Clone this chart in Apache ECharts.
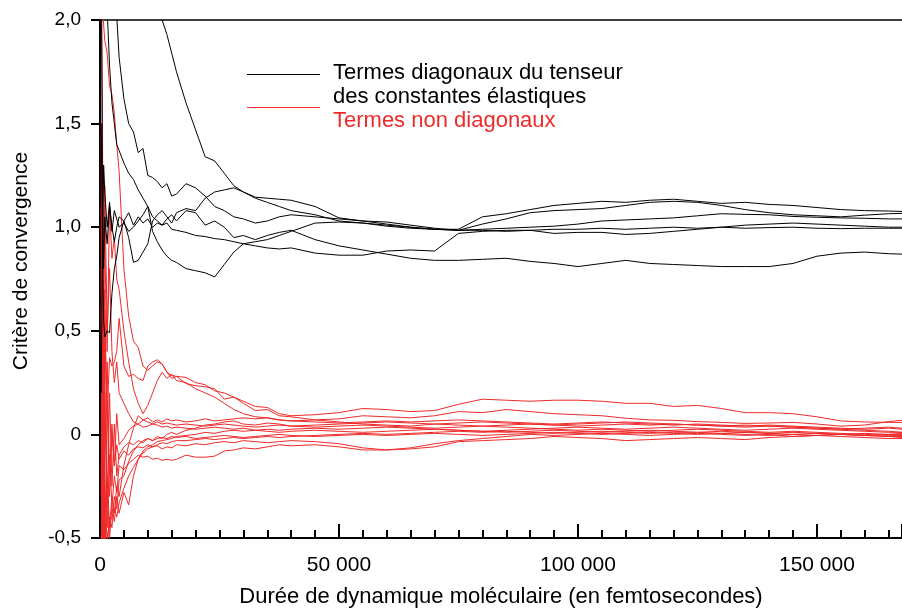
<!DOCTYPE html>
<html>
<head>
<meta charset="utf-8">
<script src="https://cdn.jsdelivr.net/npm/echarts@6/dist/echarts.min.js"></script>
<style>
  html, body { margin: 0; padding: 0; background: #fff; }
  #chart { width: 902px; height: 608px; }
</style>
</head>
<body>
<div id="chart"></div>
<script>
// durée (fs)
const times = [
  250, 500, 750, 1000, 1500, 2000, 2500, 3000, 3500, 4000,
  5000, 6000, 7000, 8000, 9000, 10000, 11000, 12000, 13000, 14000,
  15000, 16000, 18000, 20000, 22000, 24000, 26000, 28000, 30000, 32500,
  35000, 37500, 40000, 45000, 50000, 55000, 60000, 65000, 70000, 75000,
  80000, 85000, 90000, 95000, 100000, 105000, 110000, 115000, 120000, 125000,
  130000, 135000, 140000, 145000, 150000, 155000, 160000, 165000, 167800
]

// termes diagonaux
const diag1 = [
  9, 7, 6, 5.2, 4.4, 3.9, 3.5, 3.25, 3.05, 2.9,
  2.7, 2.55, 2.43, 2.32, 2.22, 2.14, 2.08, 2.04, 2.0, 1.93,
  1.84, 1.75, 1.6, 1.47, 1.34, 1.32, 1.26, 1.2, 1.17, 1.145,
  1.14, 1.135, 1.13, 1.1, 1.045, 1.03, 1.015, 1.0, 0.99, 0.99,
  1.05, 1.065, 1.085, 1.105, 1.115, 1.125, 1.12, 1.13, 1.135, 1.125,
  1.115, 1.12, 1.11, 1.105, 1.095, 1.085, 1.08, 1.078, 1.076
]
const diag2 = [
  6, 5, 4, 3.4, 2.9, 2.6, 2.35, 2.15, 2.02, 1.82,
  1.62, 1.5, 1.46, 1.36, 1.38, 1.25, 1.24, 1.22, 1.19, 1.21,
  1.15, 1.16, 1.21, 1.19, 1.15, 1.1, 1.08, 1.05, 1.04, 1.02,
  1.03, 1.05, 1.06, 1.05, 1.04, 1.03, 1.025, 1.01, 0.995, 0.985,
  1.015, 1.04, 1.07, 1.08, 1.085, 1.09, 1.105, 1.12, 1.125, 1.12,
  1.105, 1.085, 1.07, 1.06, 1.055, 1.05, 1.058, 1.065, 1.067
]
const diag3 = [
  4.5, 3.6, 2.9, 2.4, 2.05, 1.78, 1.6, 1.5, 1.4, 1.37,
  1.31, 1.26, 1.23, 1.18, 1.14, 1.1, 1.05, 1.03, 1.01, 1.02,
  0.99, 0.985, 0.975, 0.96, 0.955, 0.945, 0.94, 0.93, 0.92, 0.91,
  0.9, 0.895, 0.9, 0.875, 0.865, 0.865, 0.885, 0.89, 0.885, 0.97,
  0.98, 0.985, 0.985, 0.97, 0.975, 0.975, 0.965, 0.97, 0.98, 0.99,
  1.0, 1.01, 1.015, 1.02, 1.015, 1.01, 1.005, 1.0, 1.0
]
const diag4 = [
  1.5, 0.9, 1.3, 1.17, 1.0, 1.12, 0.98, 1.08, 1.04, 1.0,
  1.02, 0.98, 1.0, 1.03, 1.06, 1.1, 0.98, 0.93, 0.89, 0.86,
  0.84, 0.83, 0.8, 0.79, 0.78, 0.76, 0.82, 0.88, 0.92, 0.93,
  0.94, 0.96, 0.98, 1.02, 1.025, 1.02, 1.01, 1.0, 0.99, 0.985,
  0.99, 0.995, 1.0, 1.005, 1.015, 1.03, 1.035, 1.04, 1.045, 1.055,
  1.065, 1.062, 1.06, 1.052, 1.048, 1.045, 1.043, 1.04, 1.04
]
const diag5 = [
  0.2, 0.9, 0.55, 0.47, 0.5, 0.49, 0.68, 0.8, 0.86, 0.95,
  1.03, 0.95, 0.83, 0.84, 0.88, 0.92, 1.03, 1.06, 1.08, 1.05,
  1.02, 1.07, 1.09, 1.08, 1.14, 1.17, 1.18, 1.19, 1.17, 1.14,
  1.12, 1.1, 1.08, 1.06, 1.03, 1.02, 1.005, 0.995, 0.99, 0.985,
  0.985, 0.98, 0.985, 0.99, 0.99, 0.995, 0.99, 0.995, 1.0, 0.995,
  1.0, 0.995, 0.998, 1.0, 0.995, 0.993, 0.995, 0.995, 0.995
]
const diag6 = [
  2.5, 1.2, 0.8, 1.05, 0.92, 1.1, 1.0, 0.93, 1.0, 1.05,
  1.03, 1.07, 1.01, 1.05, 1.02, 1.04, 1.0, 1.02, 1.01, 1.04,
  1.06, 1.03, 1.08, 1.07, 1.01, 1.03, 1.0, 0.95, 0.96, 0.94,
  0.96, 0.975, 0.985, 0.94, 0.91, 0.89, 0.87, 0.85, 0.84, 0.84,
  0.845, 0.85, 0.835, 0.825, 0.81, 0.825, 0.84, 0.825, 0.82, 0.815,
  0.81, 0.81, 0.81, 0.825, 0.86, 0.875, 0.88, 0.872, 0.87
]

// termes non diagonaux
const off1 = [
  2.5, 2.1, 1.98, 1.9, 1.84, 1.68, 1.64, 1.55, 1.4, 1.27,
  0.8, 0.57, 0.45, 0.42, 0.33, 0.31, 0.33, 0.35, 0.34, 0.3,
  0.27, 0.28, 0.245, 0.235, 0.23, 0.22, 0.17, 0.18, 0.15, 0.115,
  0.12, 0.09, 0.085, 0.07, 0.06, 0.05, 0.045, 0.04, 0.05, 0.045,
  0.04, 0.045, 0.05, 0.045, 0.04, 0.045, 0.05, 0.045, 0.05, 0.045,
  0.04, 0.035, 0.04, 0.035, 0.03, 0.025, 0.02, 0.015, 0.01
]
const off2 = [
  -0.8, 0.9, -0.3, 0.6, 0.1, 0.37, 0.33, 0.35, 0.4, 0.56,
  0.33, 0.28, 0.29, 0.27, 0.26, 0.33, 0.35, 0.36, 0.34, 0.3,
  0.285, 0.28, 0.275, 0.25, 0.24, 0.21, 0.2, 0.18, 0.16, 0.135,
  0.13, 0.1, 0.09, 0.095, 0.105, 0.125, 0.12, 0.11, 0.115, 0.145,
  0.17, 0.165, 0.16, 0.165, 0.165, 0.16, 0.15, 0.15, 0.135, 0.14,
  0.125, 0.105, 0.105, 0.1, 0.085, 0.065, 0.06, 0.058, 0.058
]
const off3 = [
  1.5, -0.9, 0.4, -0.6, -0.2, -0.45, -0.3, -0.38, -0.25, -0.3,
  -0.15, -0.05, 0.03, 0.09, 0.07, 0.08, 0.06, 0.07, 0.06, 0.075,
  0.065, 0.07, 0.06, 0.065, 0.075, 0.065, 0.07, 0.075, 0.08, 0.075,
  0.08, 0.07, 0.065, 0.07, 0.075, 0.09, 0.085, 0.08, 0.09, 0.11,
  0.105, 0.12, 0.11, 0.1, 0.095, 0.09, 0.078, 0.07, 0.068, 0.062,
  0.058, 0.053, 0.055, 0.058, 0.05, 0.04, 0.045, 0.062, 0.068
]
const off4 = [
  -1.2, -0.6, 0.5, -0.2, -0.55, -0.4, -0.45, -0.3, -0.36, -0.22,
  -0.2, -0.13, -0.08, -0.05, -0.03, -0.02, -0.03, -0.01, -0.02, 0.0,
  0.01, 0.0, 0.02, 0.03, 0.045, 0.05, 0.06, 0.065, 0.05, 0.045,
  0.055, 0.05, 0.04, 0.045, 0.05, 0.055, 0.06, 0.055, 0.05, 0.055,
  0.06, 0.055, 0.05, 0.045, 0.05, 0.055, 0.06, 0.055, 0.05, 0.045,
  0.04, 0.045, 0.04, 0.035, 0.03, 0.025, 0.03, 0.035, 0.03
]
const off5 = [
  0.8, -1.5, -0.7, 0.2, -0.45, -0.1, -0.35, -0.2, -0.28, -0.15,
  -0.17, -0.14, -0.12, -0.1, -0.11, -0.105, -0.12, -0.115, -0.125, -0.12,
  -0.125, -0.12, -0.1, -0.11, -0.11, -0.105, -0.08, -0.075, -0.065, -0.07,
  -0.06, -0.05, -0.055, -0.05, -0.06, -0.075, -0.075, -0.065, -0.045, -0.03,
  -0.02, -0.01, 0.0, -0.005, 0.0, 0.005, 0.0, -0.005, 0.0, 0.005,
  0.0, -0.005, 0.0, -0.01, -0.005, -0.01, -0.015, -0.02, -0.02
]
const off6 = [
  -2.0, 0.3, -0.9, -0.1, 0.35, -0.2, 0.05, -0.15, -0.05, -0.12,
  -0.08, -0.1, -0.07, -0.06, -0.065, -0.05, -0.06, -0.055, -0.07, -0.06,
  -0.065, -0.05, -0.055, -0.045, -0.05, -0.04, -0.035, -0.04, -0.03, -0.035,
  -0.04, -0.035, -0.03, -0.035, -0.045, -0.065, -0.075, -0.07, -0.06, -0.035,
  -0.03, -0.025, -0.02, -0.01, -0.015, -0.02, -0.03, -0.025, -0.02, -0.015,
  -0.02, -0.025, -0.015, -0.01, -0.005, 0.0, -0.005, -0.01, -0.015
]
const off7 = [
  0.6, -0.4, 1.0, -0.8, 0.15, -0.3, 0.0, -0.15, 0.1, -0.05,
  -0.02, 0.02, 0.04, 0.05, 0.035, 0.04, 0.05, 0.045, 0.035, 0.04,
  0.03, 0.035, 0.03, 0.025, 0.03, 0.035, 0.03, 0.025, 0.03, 0.02,
  0.025, 0.02, 0.025, 0.03, 0.025, 0.03, 0.035, 0.03, 0.025, 0.02,
  0.015, 0.02, 0.025, 0.03, 0.035, 0.03, 0.025, 0.03, 0.035, 0.03,
  0.025, 0.02, 0.025, 0.03, 0.025, 0.02, 0.015, 0.01, 0.01
]
const off8 = [
  -0.3, 1.4, -1.1, 0.7, -0.35, 0.2, -0.25, 0.05, -0.2, -0.1,
  -0.06, -0.04, -0.05, -0.03, -0.04, -0.02, -0.03, -0.02, -0.015, -0.02,
  -0.01, -0.015, -0.01, -0.02, -0.015, -0.01, -0.005, -0.01, -0.015, -0.01,
  -0.005, 0.0, -0.005, -0.01, -0.005, 0.0, -0.005, 0.0, 0.005, 0.0,
  -0.005, 0.0, 0.005, 0.01, 0.005, 0.0, 0.005, 0.01, 0.005, 0.0,
  0.005, 0.0, -0.005, 0.0, -0.005, 0.0, -0.005, -0.01, -0.01
]
const off9 = [
  -3, -1.2, -0.7, -0.55, -0.5, -0.42, -0.4, -0.36, -0.4, -0.33,
  -0.26, -0.2, -0.16, -0.12, -0.09, -0.07, -0.06, -0.05, -0.04, -0.045,
  -0.035, -0.03, -0.03, -0.025, -0.02, -0.025, -0.02, -0.015, -0.02, -0.015,
  -0.01, -0.015, -0.01, -0.005, 0.0, 0.005, 0.0, 0.005, 0.01, 0.015,
  0.01, 0.015, 0.01, 0.005, 0.01, 0.015, 0.01, 0.005, 0.01, 0.01,
  0.005, 0.01, 0.005, 0.0, 0.005, 0.0, -0.005, 0.0, 0.0
]
const off10 = [
  1.1, -0.2, -1.3, -0.4, -0.25, -0.5, -0.35, -0.42, -0.3, -0.38,
  -0.28, -0.34, -0.2, -0.12, -0.08, -0.06, -0.05, -0.035, -0.03, -0.025,
  -0.02, -0.01, -0.005, 0.0, 0.01, 0.005, 0.015, 0.02, 0.015, 0.02,
  0.015, 0.01, 0.015, 0.02, 0.015, 0.01, 0.015, 0.02, 0.025, 0.02,
  0.015, 0.01, 0.015, 0.02, 0.015, 0.01, 0.015, 0.02, 0.015, 0.01,
  0.015, 0.01, 0.005, 0.01, 0.005, 0.0, 0.005, 0.0, 0.005
]
const off11 = [
  2.2, 1.6, 0.3, 1.2, 0.5, 0.8, 0.4, 0.25, 0.35, 0.2,
  0.15, 0.1, 0.06, 0.05, 0.07, 0.06, 0.05, 0.06, 0.05, 0.055,
  0.05, 0.045, 0.05, 0.045, 0.04, 0.045, 0.05, 0.045, 0.04, 0.035,
  0.04, 0.045, 0.04, 0.035, 0.04, 0.045, 0.04, 0.035, 0.03, 0.035,
  0.04, 0.035, 0.03, 0.025, 0.02, 0.025, 0.02, 0.015, 0.02, 0.025,
  0.02, 0.015, 0.01, 0.015, 0.01, 0.005, 0.0, -0.005, -0.005
]
const off12 = [
  -1.5, 0.2, 1.3, 0.9, 0.4, 1.1, 0.85, 0.95, 0.75, 0.7,
  0.5, 0.35, 0.22, 0.15, 0.1, 0.14, 0.2, 0.26, 0.3, 0.27,
  0.29, 0.26, 0.25, 0.22, 0.2, 0.18, 0.15, 0.12, 0.1, 0.085,
  0.08, 0.07, 0.065, 0.06, 0.055, 0.06, 0.065, 0.06, 0.065, 0.07,
  0.065, 0.06, 0.055, 0.05, 0.055, 0.06, 0.055, 0.05, 0.045, 0.05,
  0.045, 0.04, 0.045, 0.04, 0.035, 0.03, 0.025, 0.03, 0.025
]

const diagSeries = [diag1, diag2, diag3, diag4, diag5, diag6]
const offSeries = [off1, off2, off3, off4, off5, off6, off7, off8, off9, off10, off11, off12]

const yTicks = [-0.5, 0, 0.5, 1.0, 1.5, 2.0]

const FONT = '"Liberation Sans", Arial, sans-serif'
const RED = '#ee2a2a'

const chart = echarts.init(document.getElementById('chart'))

function toLine(values, color) {
  return {
    type: 'line',
    data: values.map((v, i) => [times[i], v]),
    showSymbol: false,
    symbol: 'none',
    silent: true,
    clip: true,
    lineStyle: { color: color, width: 1 },
  }
}

const series = [
  ...offSeries.map((s) => toLine(s, RED)),
  ...diagSeries.map((s) => toLine(s, '#000')),
]

chart.setOption({
  animation: false,
  grid: { left: 100, right: 0, top: 20, bottom: 70, outerBoundsMode: 'none', containLabel: false },
  xAxis: [
    {
      type: 'value',
      min: 0,
      max: 167800,
      interval: 50000,
      name: 'Durée de dynamique moléculaire (en femtosecondes)',
      nameLocation: 'middle',
      nameGap: 48,
      nameTextStyle: { color: '#000', fontSize: 22, fontFamily: FONT },
      axisLine: { onZero: false, lineStyle: { color: '#000', width: 2 } },
      axisTick: { inside: true, length: 14, lineStyle: { color: '#000', width: 2 } },
      minorTick: { show: true, splitNumber: 10, length: 8, lineStyle: { color: '#000', width: 2 } },
      axisLabel: {
        color: '#000',
        fontSize: 21,
        fontFamily: FONT,
        margin: 17,
        formatter: (v) => (v === 0 ? '0' : v % 50000 === 0 ? v / 1000 + ' 000' : ''),
      },
      splitLine: { show: false },
    },
    {
      type: 'value',
      position: 'top',
      min: 0,
      max: 167800,
      axisLine: { show: true, onZero: false, lineStyle: { color: '#000', width: 1.5 } },
      axisTick: { show: false },
      axisLabel: { show: false },
      splitLine: { show: false },
    },
  ],
  yAxis: {
    type: 'value',
    min: yTicks[0],
    max: yTicks[yTicks.length - 1],
    interval: 0.5,
    axisLine: { show: true, onZero: false, lineStyle: { color: '#000', width: 2 } },
    axisTick: { show: true, length: 9, lineStyle: { color: '#000', width: 2 } },
    axisLabel: {
      color: '#000',
      fontSize: 19,
      fontFamily: FONT,
      margin: 19,
      formatter: (v) => (v === 0 ? '0' : v.toFixed(1).replace('.', ',')),
    },
    splitLine: { show: false },
  },
  graphic: [
    {
      type: 'text',
      x: 21,
      y: 261,
      rotation: Math.PI / 2,
      style: { text: 'Critère de convergence', fontSize: 21, fontFamily: FONT, fill: '#000', align: 'center', verticalAlign: 'middle' },
    },
    { type: 'line', shape: { x1: 247, y1: 74.5, x2: 320, y2: 74.5 }, style: { stroke: '#000', lineWidth: 1 } },
    { type: 'line', shape: { x1: 247, y1: 107.5, x2: 320, y2: 107.5 }, style: { stroke: RED, lineWidth: 1 } },
    {
      type: 'text', x: 333, y: 73,
      style: { text: 'Termes diagonaux du tenseur', fontSize: 22, fontFamily: FONT, fill: '#000', verticalAlign: 'middle' },
    },
    {
      type: 'text', x: 333, y: 97,
      style: { text: 'des constantes élastiques', fontSize: 22, fontFamily: FONT, fill: '#000', verticalAlign: 'middle' },
    },
    {
      type: 'text', x: 333, y: 121,
      style: { text: 'Termes non diagonaux', fontSize: 22, fontFamily: FONT, fill: RED, verticalAlign: 'middle' },
    },
  ],
  series,
})
</script>
</body>
</html>
